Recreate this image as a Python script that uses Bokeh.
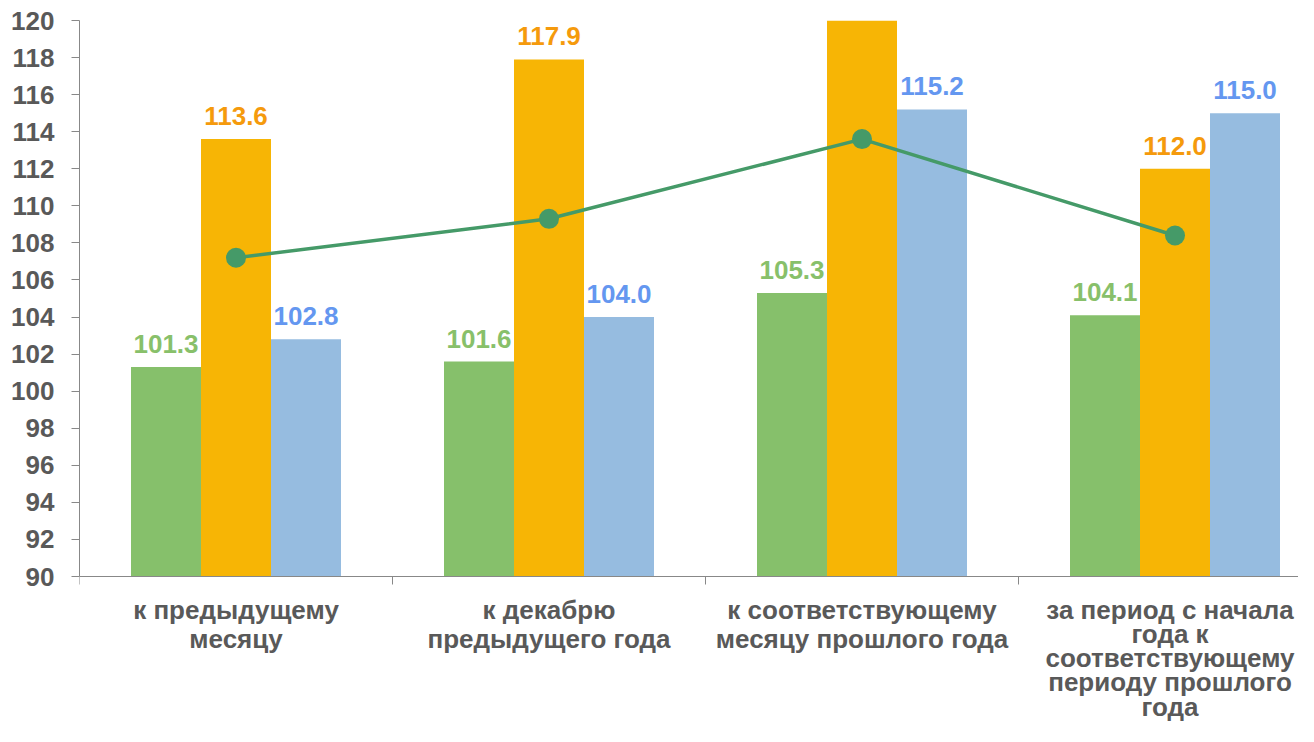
from bokeh.plotting import figure
from bokeh.models import Range1d, FixedTicker, ColumnDataSource
from bokeh.core.properties import value
from bokeh.embed import file_html
from bokeh.resources import INLINE

categories = [
    ["к предыдущему", "месяцу"],
    ["к декабрю", "предыдущего года"],
    ["к соответствующему", "месяцу прошлого года"],
    ["за период с начала", "года к", "соответствующему", "периоду прошлого", "года"],
]
green_vals = [101.3, 101.6, 105.3, 104.1]
orange_vals = [113.6, 117.9, 121.8, 112.0]
blue_vals = [102.8, 104.0, 115.2, 115.0]
line_vals = [107.2, 109.3, 113.6, 108.4]
y_ticks = list(range(90, 121, 2))

FONT = "Liberation Sans"
C_GREEN = "#86C06B"
C_ORANGE = "#F7B505"
C_BLUE = "#96BCE0"
L_GREEN = "#88C06A"
L_ORANGE = "#F59A0C"
L_BLUE = "#6497F0"
C_LINE = "#459A68"
C_AXIS_TXT = "#595959"

W, H = 1298, 726
BL, BT = 79, 20
PLOT_H = 556              # pixel height of the 90..120 span
cat_px = 313.0
Y0, Y1 = 90, 120
px_per_unit = PLOT_H / (Y1 - Y0)
below_px = H - BT - PLOT_H   # label strip under the x axis
y_start = Y0 - below_px / px_per_unit

xr = Range1d(0, (W - BL) / cat_px)
p = figure(width=W, height=H, output_backend="svg", toolbar_location=None,
           x_range=xr, y_range=Range1d(y_start, Y1),
           min_border_left=BL, min_border_right=0, min_border_top=BT, min_border_bottom=0)
p.outline_line_color = None
p.xgrid.visible = False
p.ygrid.visible = False
p.background_fill_color = "white"

bw = 70 / cat_px
centers = [i + 0.5 for i in range(len(categories))]
series = [(green_vals, -bw, C_GREEN, L_GREEN),
          (orange_vals, 0.0, C_ORANGE, L_ORANGE),
          (blue_vals, bw, C_BLUE, L_BLUE)]
for vals, off, col, lcol in series:
    xs = [c + off for c in centers]
    labs = [f"{v:.1f}" if v <= Y1 else "" for v in vals]
    src = ColumnDataSource(dict(x=xs, top=vals, lab=labs))
    p.vbar(x="x", top="top", bottom=Y0, width=bw, source=src, fill_color=col, line_color=None)
    p.text(x="x", y="top", text="lab", source=src, text_align="center",
           text_baseline="alphabetic", y_offset=-23, text_color=lcol,
           text_font=value(FONT), text_font_style="bold", text_font_size="26px")

p.line(centers, line_vals, line_color=C_LINE, line_width=3.5)
p.scatter(centers, line_vals, size=20, fill_color=C_LINE, line_color=None)

# y axis limited to 90..120
ya = p.yaxis[0]
ya.bounds = (Y0, Y1)
ya.ticker = FixedTicker(ticks=y_ticks, minor_ticks=[])
ya.axis_line_color = "#888888"
ya.major_tick_line_color = "#888888"
ya.major_tick_out = 8
ya.major_tick_in = 0
ya.major_label_standoff = 17
ya.major_label_text_font = FONT
ya.major_label_text_font_style = "bold"
ya.major_label_text_font_size = "26px"
ya.major_label_text_color = C_AXIS_TXT

# x axis drawn at y = 90, boundary ticks only
xa = p.xaxis[0]
xa.fixed_location = Y0
xa.ticker = FixedTicker(ticks=centers, minor_ticks=[0, 1, 2, 3, 4])
xa.major_label_overrides = {c: "" for c in centers}
xa.major_label_text_font_size = "0px"
xa.major_label_standoff = 0
xa.axis_line_color = "#888888"
xa.major_tick_out = 0
xa.major_tick_in = 0
xa.minor_tick_line_color = "#888888"
xa.minor_tick_out = 8
xa.minor_tick_in = 0

# category labels under the axis
first_off = 33    # px from axis to first line
last_off = 130    # lowest line allowed
for i, (c, lines) in enumerate(zip(centers, categories)):
    n = len(lines)
    gap = 29.0 if n == 1 else min(29.0, (last_off - first_off) / (n - 1))
    ys = [Y0 - (first_off + k * gap) / px_per_unit for k in range(n)]
    p.text(x=[c] * n, y=ys, text=lines, text_align="center", text_baseline="alphabetic",
           x_offset=(-5 if i == len(categories) - 1 else 0),
           text_font=value(FONT), text_font_style="bold", text_font_size="26px",
           text_color=C_AXIS_TXT)

open("out.html", "w").write(file_html(p, INLINE))
